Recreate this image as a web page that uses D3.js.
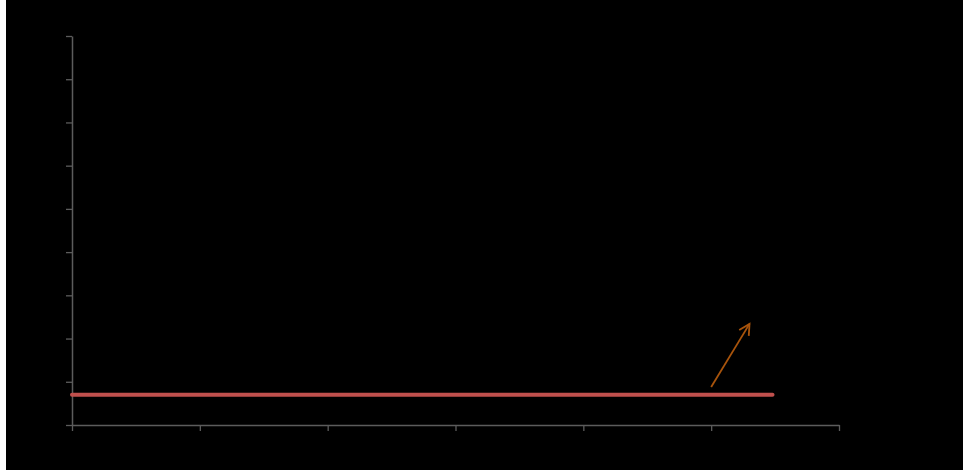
<!DOCTYPE html>
<html>
<head>
<meta charset="utf-8">
<script src="https://cdn.jsdelivr.net/npm/d3@7"></script>
<style>
  html, body { margin: 0; padding: 0; background: #ffffff; }
  svg { display: block; }
</style>
</head>
<body>
<svg id="chart" width="963" height="473"></svg>
<script>
// Axis ticks (labels are not shown on this chart)
const xTicks = [0, 1, 2, 3, 4, 5, 6];
const yTicks = [0, 1, 2, 3, 4, 5, 6, 7, 8, 9];

// Flat series: constant level across the period
const seriesX = [0, 5.48];
const seriesY = [0.7, 0.7];

// Trend arrow annotation: start and end points in data units
const arrowX = [5.0, 5.3];
const arrowY = [0.88, 2.34];

const svg = d3.select("#chart");

// Dark plot panel
svg.append("rect")
  .attr("x", 6).attr("y", 0)
  .attr("width", 957).attr("height", 470)
  .attr("fill", "#000000");

const x = d3.scaleLinear().domain([0, 6]).range([72, 839]);
const y = d3.scaleLinear().domain([0, 9]).range([425, 36]);

const axisColor = "#5c5c5c";

const xAxis = svg.append("g")
  .attr("transform", `translate(0,${y(0)})`)
  .call(d3.axisBottom(x).tickValues(xTicks).tickSize(6).tickSizeOuter(0).tickFormat(() => ""));

const yAxis = svg.append("g")
  .attr("transform", `translate(${x(0)},0)`)
  .call(d3.axisLeft(y).tickValues(yTicks).tickSize(6).tickSizeOuter(0).tickFormat(() => ""));

[xAxis, yAxis].forEach(g => {
  g.select(".domain").attr("stroke", axisColor).attr("stroke-width", 1.5);
  g.selectAll(".tick line").attr("stroke", axisColor).attr("stroke-width", 1.3);
});

// Series line
const pts = seriesX.map((v, i) => [v, seriesY[i]]);
svg.append("path")
  .datum(pts)
  .attr("d", d3.line().x(d => x(d[0])).y(d => y(d[1])))
  .attr("fill", "none")
  .attr("stroke", "#c0504d")
  .attr("stroke-width", 4)
  .attr("stroke-linecap", "round");

// Trend arrow with open head
const ax0 = x(arrowX[0]), ay0 = y(arrowY[0]);
const ax1 = x(arrowX[1]), ay1 = y(arrowY[1]);
const ang = Math.atan2(ay1 - ay0, ax1 - ax0);
const headLen = 12, spread = Math.PI / 6.5;
const arrowColor = "#a8540c";

svg.append("line")
  .attr("x1", ax0).attr("y1", ay0)
  .attr("x2", ax1).attr("y2", ay1)
  .attr("stroke", arrowColor)
  .attr("stroke-width", 1.8);

svg.append("path")
  .attr("d", d3.line()([
    [ax1 - headLen * Math.cos(ang - spread), ay1 - headLen * Math.sin(ang - spread)],
    [ax1, ay1],
    [ax1 - headLen * Math.cos(ang + spread), ay1 - headLen * Math.sin(ang + spread)]
  ]))
  .attr("fill", "none")
  .attr("stroke", arrowColor)
  .attr("stroke-width", 1.8)
  .attr("stroke-linejoin", "miter");
</script>
</body>
</html>
